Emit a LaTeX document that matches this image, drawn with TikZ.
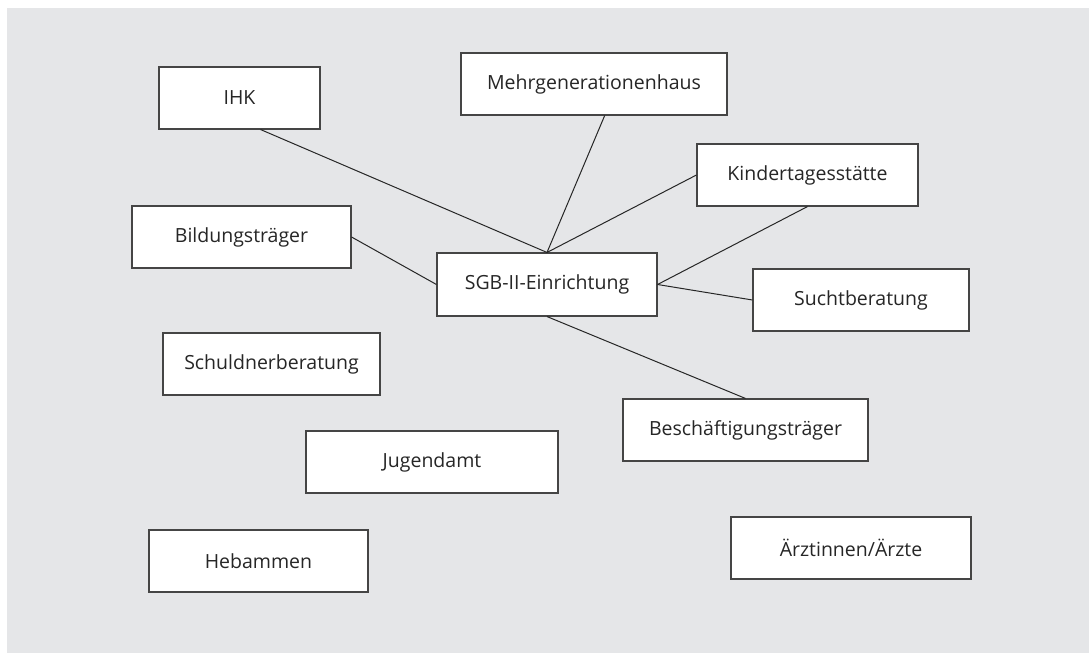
\documentclass[tikz,border=0pt]{standalone}
\usepackage{fontspec}
\setmainfont{Open Sans}
\usetikzlibrary{calc}
\definecolor{bg}{HTML}{E5E6E8}
\definecolor{ink}{HTML}{262626}
\definecolor{edge}{HTML}{454545}
\begin{document}
\begin{tikzpicture}[x=1pt,y=-1pt,
  box/.style={draw=edge, line width=1.1pt, fill=white, minimum height=62pt, inner sep=0pt, text=ink, font=\fontsize{19.5}{22}\selectfont},
  link/.style={draw=ink, line width=1pt}]
\useasboundingbox (0,0) rectangle (1089,653);
\fill[bg] (7,8) rectangle (1089,653);
\node[box, minimum width=161pt] (ihk) at (239.5,98) {IHK};
\node[box, minimum width=266pt] (mehr) at (594,84) {Mehrgenerationenhaus};
\node[box, minimum width=221pt] (kita) at (807.5,175) {Kindertagesstätte};
\node[box, minimum width=219pt] (bild) at (241.5,237) {Bildungsträger};
\node[box, minimum width=220pt, minimum height=63pt] (sgb) at (547,284.5) {SGB-II-Einrichtung};
\node[box, minimum width=216pt] (sucht) at (861,300) {Suchtberatung};
\node[box, minimum width=217pt] (schuld) at (271.5,364) {Schuldnerberatung};
\node[box, minimum width=245pt] (besch) at (745.5,430) {Beschäftigungsträger};
\node[box, minimum width=252pt] (jugend) at (432,462) {Jugendamt};
\node[box, minimum width=219pt] (heb) at (258.5,561) {Hebammen};
\node[box, minimum width=240pt] (arzt) at (851,548) {Ärztinnen/Ärzte};
\draw[link] ($(ihk.south west)!0.63!(ihk.south east)$) -- (sgb.north);
\draw[link] ($(mehr.south west)!0.54!(mehr.south east)$) -- (sgb.north);
\draw[link] (kita.west) -- (sgb.north);
\draw[link] (kita.south) -- (sgb.east);
\draw[link] (sucht.west) -- (sgb.east);
\draw[link] (bild.east) -- (sgb.west);
\draw[link] (sgb.south) -- (besch.north);
\end{tikzpicture}
\end{document}
